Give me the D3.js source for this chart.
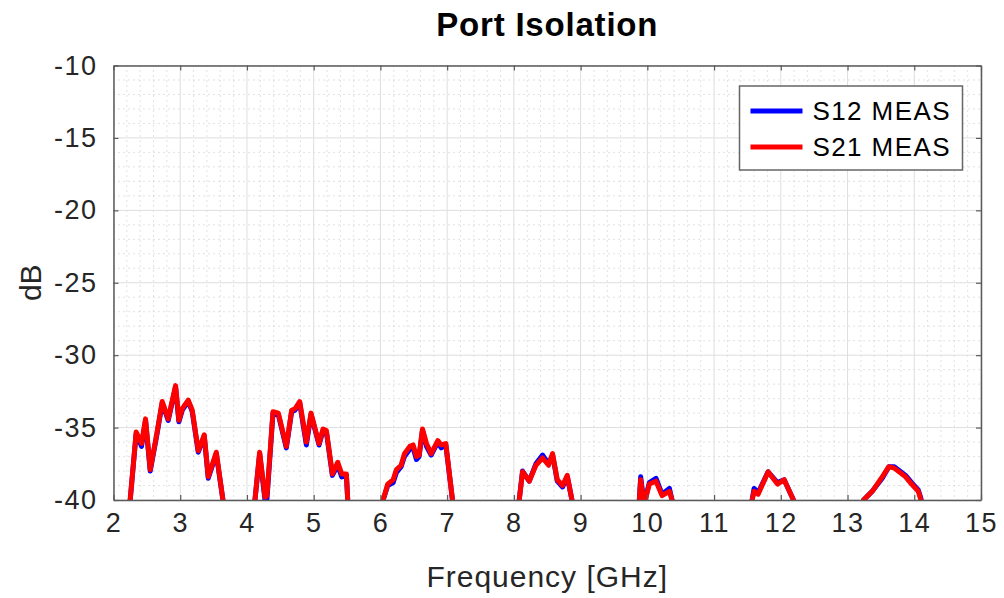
<!DOCTYPE html>
<html>
<head>
<meta charset="utf-8">
<title>Port Isolation</title>
<script src="https://d3js.org/d3.v7.min.js"></script>
<style>
body { margin: 0; background: #fff; }
svg { font-family: "Liberation Sans", Arial, sans-serif; }
</style>
</head>
<body>
<script>
// frequency points (GHz)
var freq = [2.20, 2.25, 2.34, 2.42, 2.48, 2.55, 2.65, 2.73, 2.82, 2.93, 2.98, 3.03, 3.12, 3.18, 3.27, 3.36, 3.42, 3.54, 3.64, 3.70,
  4.08, 4.12, 4.19, 4.27, 4.30, 4.39, 4.47, 4.59, 4.67, 4.72, 4.79, 4.89, 4.96, 5.08, 5.14, 5.19, 5.28, 5.36, 5.42, 5.49, 5.51, 5.55,
  6.00, 6.04, 6.11, 6.19, 6.24, 6.31, 6.36, 6.44, 6.49, 6.54, 6.58, 6.63, 6.69, 6.76, 6.86, 6.91, 6.98, 7.08, 7.12,
  8.04, 8.08, 8.13, 8.23, 8.33, 8.43, 8.52, 8.58, 8.65, 8.73, 8.80, 8.87, 8.91,
  9.86, 9.88, 9.90, 9.95, 10.03, 10.13, 10.22, 10.33, 10.37, 10.40,
  11.54, 11.57, 11.60, 11.66, 11.81, 11.95, 12.05, 12.19, 12.22,
  13.20, 13.24, 13.37, 13.52, 13.62, 13.70, 13.87, 13.96, 14.06, 14.10, 14.14];

var s21 = [-43, -40, -35.3, -36.1, -34.4, -37.9, -35.4, -33.2, -34.4, -32.1, -34.5, -33.7, -33.1, -33.8, -36.6, -35.5, -38.4, -36.7, -40, -42,
  -42, -40, -36.7, -39.8, -39.7, -33.9, -34.0, -36.3, -33.8, -33.7, -33.2, -36.0, -34.0, -36.1, -35.1, -35.2, -38.2, -37.4, -38.2, -38.2, -40, -42,
  -41, -40, -38.9, -38.6, -37.9, -37.6, -36.8, -36.3, -36.2, -37.0, -36.9, -35.1, -36.1, -36.8, -35.9, -36.2, -36.1, -40, -41,
  -41, -40, -38.05, -38.7, -37.6, -37.1, -37.6, -36.8, -38.6, -39.0, -38.3, -40, -41,
  -41, -40, -38.6, -40.3, -38.9, -38.7, -39.7, -39.4, -40, -41,
  -41, -40, -39.4, -39.6, -38.05, -38.9, -38.6, -40, -41,
  -41, -40, -39.4, -38.4, -37.7, -37.8, -38.4, -38.9, -39.4, -40, -41];

var s12 = [-43, -40, -35.4, -36.3, -34.5, -38.0, -35.5, -33.3, -34.5, -32.2, -34.6, -33.8, -33.2, -33.9, -36.7, -35.6, -38.5, -36.8, -40, -42,
  -42, -40, -36.8, -40.0, -39.9, -34.0, -34.1, -36.4, -33.9, -33.8, -33.3, -36.2, -34.1, -36.2, -35.2, -35.3, -38.3, -37.6, -38.4, -38.3, -40, -42,
  -41, -40, -39.0, -38.8, -38.1, -37.7, -37.0, -36.5, -36.4, -37.2, -37.0, -35.2, -36.3, -36.9, -36.0, -36.4, -36.2, -40, -41,
  -41, -40, -38.0, -38.7, -37.5, -36.9, -37.5, -36.9, -38.7, -39.1, -38.4, -40, -41,
  -41, -40, -38.4, -40.3, -38.8, -38.5, -39.6, -39.2, -40, -41,
  -41, -40, -39.2, -39.5, -38.05, -38.8, -38.6, -40, -41,
  -41, -40, -39.4, -38.5, -37.7, -37.7, -38.3, -38.8, -39.3, -39.9, -41];

var xTicks = [2, 3, 4, 5, 6, 7, 8, 9, 10, 11, 12, 13, 14, 15];
var yTicks = [-40, -35, -30, -25, -20, -15, -10];
var seriesNames = ["S12 MEAS", "S21 MEAS"];
var seriesColors = ["#0000ff", "#ff0000"];

var W = 1004, H = 598;
var margin = { top: 65.5, right: 23, bottom: 98, left: 113.5 };
var width = W - margin.left - margin.right,
    height = H - margin.top - margin.bottom;

var svg = d3.select("body").append("svg")
  .attr("width", W).attr("height", H);

var x = d3.scaleLinear().domain([2, 15]).range([0, width]);
var y = d3.scaleLinear().domain([-40, -10]).range([height, 0]);

var g = svg.append("g")
  .attr("transform", "translate(" + margin.left + "," + margin.top + ")");

// minor grid
var xMinor = d3.range(2, 15.001, 0.2).filter(function(v){ return Math.abs(v - Math.round(v)) > 0.01; });
var yMinor = d3.range(-40, -9.999, 1).filter(function(v){ return v % 5 !== 0; });

g.selectAll(".xminor").data(xMinor).enter().append("line")
  .attr("x1", d => x(d)).attr("x2", d => x(d))
  .attr("y1", 0).attr("y2", height)
  .attr("stroke", "#c4c4c4").attr("stroke-width", 1).attr("stroke-dasharray", "1,4");
g.selectAll(".yminor").data(yMinor).enter().append("line")
  .attr("y1", d => y(d)).attr("y2", d => y(d))
  .attr("x1", 0).attr("x2", width)
  .attr("stroke", "#c4c4c4").attr("stroke-width", 1).attr("stroke-dasharray", "1,4");

// major grid
g.selectAll(".xgrid").data(xTicks).enter().append("line")
  .attr("x1", d => x(d)).attr("x2", d => x(d))
  .attr("y1", 0).attr("y2", height)
  .attr("stroke", "#dedede").attr("stroke-width", 1);
g.selectAll(".ygrid").data(yTicks).enter().append("line")
  .attr("y1", d => y(d)).attr("y2", d => y(d))
  .attr("x1", 0).attr("x2", width)
  .attr("stroke", "#dedede").attr("stroke-width", 1);

// data lines, clipped to plot box
svg.append("defs").append("clipPath").attr("id", "clip")
  .append("rect").attr("width", width).attr("height", height);

var line = d3.line().x(d => x(d[0])).y(d => y(d[1]));
var plot = g.append("g").attr("clip-path", "url(#clip)");
[s12, s21].forEach(function(s, i) {
  plot.append("path")
    .datum(freq.map(function(f, k){ return [f, s[k]]; }))
    .attr("d", line)
    .attr("fill", "none")
    .attr("stroke", seriesColors[i])
    .attr("stroke-width", 5)
    .attr("stroke-linejoin", "round");
});

// axes with inward ticks
var axCol = "#262626";
var fmt = function(d){ return String(d); };
var xAxis = g.append("g").attr("transform", "translate(0," + height + ")")
  .call(d3.axisBottom(x).tickValues(xTicks).tickFormat(fmt).tickSizeInner(-5).tickSizeOuter(0).tickPadding(13));
var yAxis = g.append("g")
  .call(d3.axisLeft(y).tickValues(yTicks).tickFormat(fmt).tickSizeInner(-5).tickSizeOuter(0).tickPadding(16));
g.append("g").call(d3.axisTop(x).tickValues(xTicks).tickSizeInner(-5).tickSizeOuter(0).tickFormat(""));
g.append("g").attr("transform", "translate(" + width + ",0)")
  .call(d3.axisRight(y).tickValues(yTicks).tickSizeInner(-5).tickSizeOuter(0).tickFormat(""));

g.selectAll(".domain").attr("stroke", "#5a5a5a").attr("stroke-width", 1.5);
g.selectAll(".tick line").attr("stroke", "#5a5a5a").attr("stroke-width", 1.2);
[xAxis, yAxis].forEach(function(a) {
  a.selectAll("text").attr("font-size", 27).attr("fill", axCol)
    .attr("letter-spacing", "1.5px")
    .attr("font-family", "Liberation Sans, Arial, sans-serif");
});

// titles
svg.append("text").attr("x", margin.left + width / 2).attr("y", 36)
  .attr("text-anchor", "middle").attr("font-size", 33).attr("font-weight", "bold")
  .attr("letter-spacing", "0.8px")
  .attr("fill", "#000").text("Port Isolation");
svg.append("text").attr("x", margin.left + width / 2).attr("y", 587)
  .attr("text-anchor", "middle").attr("font-size", 30).attr("fill", axCol)
  .attr("letter-spacing", "1px")
  .text("Frequency [GHz]");
svg.append("text")
  .attr("transform", "translate(41," + (margin.top + height / 2) + ") rotate(-90)")
  .attr("text-anchor", "middle").attr("font-size", 30).attr("fill", axCol)
  .text("dB");

// legend
var leg = svg.append("g").attr("transform", "translate(739.5,86)");
leg.append("rect").attr("width", 223).attr("height", 84)
  .attr("fill", "#fff").attr("stroke", "#666").attr("stroke-width", 1.5);
seriesNames.forEach(function(n, i) {
  var yy = 25 + i * 36;
  leg.append("line").attr("x1", 11).attr("x2", 63).attr("y1", yy).attr("y2", yy)
    .attr("stroke", seriesColors[i]).attr("stroke-width", 5);
  leg.append("text").attr("x", 73).attr("y", yy + 9).attr("font-size", 26)
    .attr("letter-spacing", "1.4px")
    .attr("fill", "#000").text(n);
});
</script>
</body>
</html>
